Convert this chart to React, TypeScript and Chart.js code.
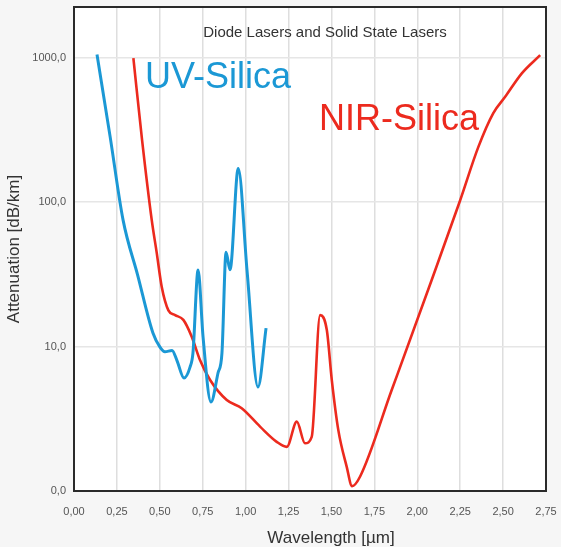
import { useEffect, useRef } from "react";
import { Chart, registerables } from "chart.js";

Chart.register(...registerables);

// ---- data ----
const uvWavelength = [0.134, 0.21, 0.286, 0.37, 0.46, 0.501, 0.53, 0.571, 0.6, 0.641, 0.676, 0.693, 0.723, 0.752, 0.798, 0.839, 0.862, 0.886, 0.909, 0.957, 1.008, 1.072, 1.119];
const uvAttenuation = [1050, 286, 75, 31.5, 12.4, 9.9, 9.2, 9.4, 8.0, 6.05, 7.2, 9.0, 33.8, 11.6, 4.13, 6.56, 9.0, 45, 34, 171, 33.8, 5.25, 13.4];

const nirWavelength = [0.346, 0.396, 0.453, 0.482, 0.511, 0.55, 0.589, 0.637, 0.686, 0.734, 0.793, 0.89, 0.977, 1.084, 1.181, 1.24, 1.298, 1.346, 1.385, 1.434, 1.473, 1.502, 1.54, 1.589, 1.62, 1.667, 1.85, 2.084, 2.25, 2.356, 2.443, 2.512, 2.609, 2.716];
const nirAttenuation = [990, 273, 75, 44.5, 25.9, 17.8, 16.5, 15.3, 11.7, 8.07, 5.86, 4.26, 3.74, 2.79, 2.19, 2.02, 3.02, 2.14, 2.37, 16.5, 13.0, 5.86, 2.64, 1.47, 1.08, 1.26, 4.96, 28.9, 103, 241, 413, 535, 778, 1040];

const xTicks = [0, 0.25, 0.5, 0.75, 1.0, 1.25, 1.5, 1.75, 2.0, 2.25, 2.5, 2.75];
const xTickLabels = ["0,00", "0,25", "0,50", "0,75", "1,00", "1,25", "1,50", "1,75", "2,00", "2,25", "2,50", "2,75"];
const yTicks = [1, 10, 100, 1000];
const yTickLabels = ["0,0", "10,0", "100,0", "1000,0"];

const chartTitle = "Diode Lasers and Solid State Lasers";
const seriesNames = ["UV-Silica", "NIR-Silica"];
const xTitle = "Wavelength [µm]";
const yTitle = "Attenuation [dB/km]";

const BLUE = "#1b98d5";
const RED = "#ec2a1e";
const FONT = "'Liberation Sans', Arial, sans-serif";

const overlay = {
  id: "overlay",
  beforeDraw(chart: any) {
    const { ctx, chartArea, width, height } = chart;
    const { left, top, right, bottom } = chartArea;
    ctx.save();
    ctx.fillStyle = "#f6f6f6";
    ctx.fillRect(0, 0, width, height);
    ctx.fillStyle = "#ffffff";
    ctx.fillRect(left, top, right - left, bottom - top);
    ctx.restore();
  },
  afterDraw(chart: any) {
    const { ctx, chartArea } = chart;
    const { left, top, right, bottom } = chartArea;
    ctx.save();
    ctx.strokeStyle = "#2a2a2a";
    ctx.lineWidth = 2;
    ctx.strokeRect(left, top, right - left, bottom - top);

    ctx.textBaseline = "alphabetic";
    ctx.fillStyle = "#333333";
    ctx.font = `15px ${FONT}`;
    ctx.textAlign = "center";
    ctx.fillText(chartTitle, left + 251, top + 30);

    ctx.font = `36px ${FONT}`;
    ctx.textAlign = "left";
    ctx.fillStyle = BLUE;
    ctx.fillText(seriesNames[0], left + 71, top + 81);
    ctx.fillStyle = RED;
    ctx.fillText(seriesNames[1], left + 245, top + 123);

    ctx.fillStyle = "#333333";
    ctx.font = `17px ${FONT}`;
    ctx.textAlign = "center";
    ctx.fillText(xTitle, left + 257, bottom + 52);
    ctx.restore();
  },
};

export default function App() {
  const canvasRef = useRef<HTMLCanvasElement | null>(null);

  useEffect(() => {
    const canvas = canvasRef.current;
    if (!canvas) return;
    const chart = new Chart(canvas, {
      type: "line",
      data: {
        datasets: [
          {
            label: seriesNames[0],
            data: uvWavelength.map((x, i) => ({ x, y: uvAttenuation[i] })),
            borderColor: BLUE,
            borderWidth: 3,
            pointRadius: 0,
            cubicInterpolationMode: "monotone",
            fill: false,
          },
          {
            label: seriesNames[1],
            data: nirWavelength.map((x, i) => ({ x, y: nirAttenuation[i] })),
            borderColor: RED,
            borderWidth: 2.6,
            pointRadius: 0,
            cubicInterpolationMode: "monotone",
            fill: false,
          },
        ],
      },
      options: {
        responsive: false,
        animation: false,
        layout: { padding: { top: 7, right: 15, left: 0, bottom: 0 } },
        plugins: {
          legend: { display: false },
          tooltip: { enabled: false },
          title: { display: false },
        },
        scales: {
          x: {
            type: "linear",
            min: 0,
            max: 2.75,
            afterFit: (s: any) => {
              s.height = 56;
              s.paddingLeft = 0;
              s.paddingRight = 0;
            },
            afterBuildTicks: (s: any) => {
              s.ticks = xTicks.map((v) => ({ value: v }));
            },
            ticks: {
              padding: 14,
              color: "#555555",
              font: { size: 11, family: FONT },
              maxRotation: 0,
              autoSkip: false,
              callback: (_v: any, i: number) => xTickLabels[i],
            },
            grid: { color: "#dedede", lineWidth: 1.5, drawTicks: false },
            border: { display: false },
          },
          y: {
            type: "logarithmic",
            min: 1,
            max: 2240,
            afterFit: (s: any) => {
              s.width = 74;
              s.paddingTop = 0;
              s.paddingBottom = 0;
            },
            afterBuildTicks: (s: any) => {
              s.ticks = yTicks.map((v) => ({ value: v }));
            },
            ticks: {
              padding: 8,
              color: "#555555",
              font: { size: 11, family: FONT },
              autoSkip: false,
              callback: (_v: any, i: number) => yTickLabels[i],
            },
            grid: { color: "#e6e6e6", lineWidth: 1.5, drawTicks: false },
            border: { display: false },
            title: {
              display: true,
              text: yTitle,
              color: "#333333",
              font: { size: 17, family: FONT },
              padding: { top: 4, bottom: 4 },
            },
          },
        },
      },
      plugins: [overlay],
    });
    return () => chart.destroy();
  }, []);

  return (
    <div style={{ position: "fixed", left: 0, top: 0, width: 561, height: 547 }}>
      <canvas ref={canvasRef} width={561} height={547} style={{ display: "block" }} />
    </div>
  );
}
